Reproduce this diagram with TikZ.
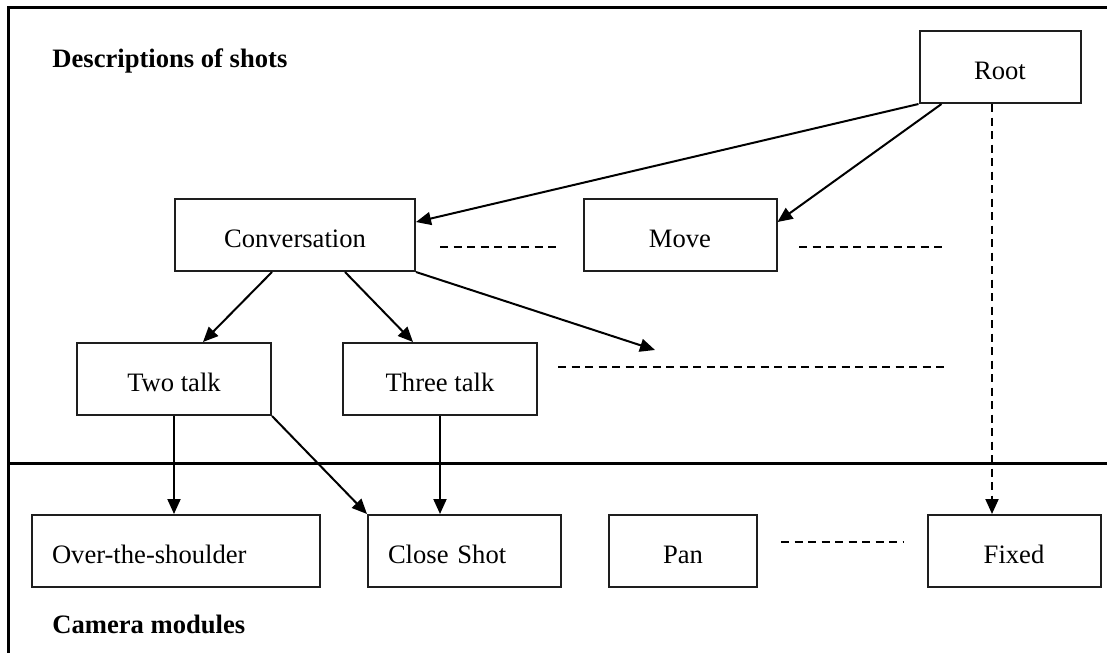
\documentclass[tikz,border=0pt]{standalone}
\usepackage{fontspec}
\setmainfont{Liberation Serif}
\usepackage{tikz}
\usetikzlibrary{
  arrows.meta,
  calc
}
\definecolor{frameclr}{RGB}{0, 0, 0}
\definecolor{boxclr}{RGB}{30, 30, 30}
\newcommand{\shotfont}{\fontsize{13.3}{16}\selectfont}
\tikzset{
  % Frame and separator
  frameline/.style = {line width=1.5pt, draw=frameclr},
  % Boxes
  shotbox/.style   = {draw=boxclr, line width=1pt, minimum height=36pt,
                      inner sep=0pt, font=\shotfont,
                      text height=13pt, text depth=1pt},
  leftbox/.style   = {inner xsep=10pt, align=left},
  % Titles
  titlelab/.style  = {font=\shotfont\bfseries, inner sep=0pt},
  % Connectors
  conn/.style      = {-{Triangle[length=7.5pt,width=6.5pt]}, line width=1pt},
  dashconn/.style  = {conn, dash pattern=on 4pt off 2.75pt},
  % Ellipsis dashes
  moredash/.style  = {line width=0.9pt, dash pattern=on 4pt off 2.75pt},
}

\begin{document}
\begin{tikzpicture}[x=0.5pt,y=-0.5pt]
  \useasboundingbox (0,0) rectangle (1107,653);
  % Frame
  \draw[frameline] (1107,7) -- (8,7) -- (8,653);
  \draw[frameline] (8,463) -- (1107,463);
  % Titles
  \node[titlelab, anchor=base west] (desc) at (52,67) {Descriptions of shots};
  \node[titlelab, anchor=base west] (cam) at (52,633) {Camera modules};
  % Descriptions of shots
  \node[shotbox, minimum width=80.5pt] (root) at (1000,67) {Root};
  \node[shotbox, minimum width=120pt] (conv) at (295,235) {Conversation};
  \node[shotbox, minimum width=96.5pt] (move) at (680,235) {Move};
  \node[shotbox, minimum width=97pt] (twotalk) at (174,379) {Two talk};
  \node[shotbox, minimum width=97pt] (threetalk) at (440,379) {Three talk};
  % Camera modules
  \node[shotbox, leftbox, text width=124pt] (over) at (176,551) {Over-the-shoulder};
  \node[shotbox, leftbox, text width=76.5pt] (close) at (464.5,551) {Close Shot};
  \node[shotbox, minimum width=74pt] (pan) at (683,551) {Pan};
  \node[shotbox, minimum width=86.5pt] (fixed) at (1014,551) {Fixed};
  % Free ends and dashes
  \coordinate (convend) at (655,350);
  \coordinate (dotsA1) at (440,247);
  \coordinate (dotsA2) at (557,247);
  \coordinate (dotsB1) at (799,247);
  \coordinate (dotsB2) at (945,247);
  \coordinate (dotsC1) at (558,367);
  \coordinate (dotsC2) at (945,367);
  \coordinate (dotsD1) at (781,542);
  \coordinate (dotsD2) at (903,542);
  % Arrows
  \draw[conn] (root.south west) -- ([yshift=6.5pt]conv.east);
  \draw[conn] ([xshift=11.5pt]root.south west) -- ([yshift=6.5pt]move.east);
  \draw[dashconn] ([xshift=-4pt]root.south) -- ([xshift=-4pt]root.south |- fixed.north);
  \draw[conn] ([xshift=-11.5pt]conv.south) -- ([xshift=14.5pt]twotalk.north);
  \draw[conn] ([xshift=25pt]conv.south) -- ([xshift=-13.5pt]threetalk.north);
  \draw[conn] (conv.south east) -- (convend);
  \draw[conn] (twotalk.south) -- (twotalk.south |- over.north);
  \draw[conn] (twotalk.south east) -- (close.north west);
  \draw[conn] (threetalk.south) -- (threetalk.south |- close.north);
  % Dashes
  \draw[moredash] (dotsA1) -- (dotsA2);
  \draw[moredash] (dotsB1) -- (dotsB2);
  \draw[moredash] (dotsC1) -- (dotsC2);
  \draw[moredash] (dotsD1) -- (dotsD2);
\end{tikzpicture}
\end{document}
